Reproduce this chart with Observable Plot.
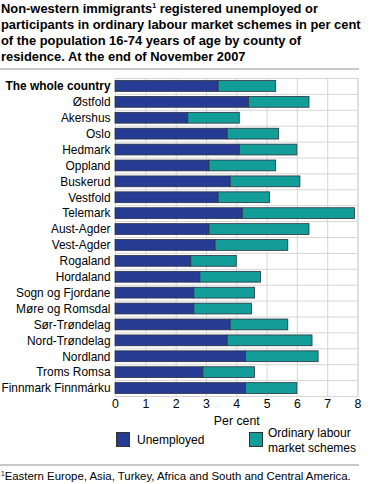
<!DOCTYPE html>
<html>
<head>
<meta charset="utf-8">
<script src="https://cdn.jsdelivr.net/npm/d3@7"></script>
<script src="https://cdn.jsdelivr.net/npm/@observablehq/plot@0.6"></script>
<style>
  body { margin: 0; background: #fff; font-family: "Liberation Sans", Arial, sans-serif; color: #000; }
  #wrap { position: relative; width: 371px; height: 484px; overflow: hidden; }
  #title { position: absolute; left: 1px; top: 1px; width: 370px; font-weight: bold; font-size: 12.9px; line-height: 16px; white-space: nowrap; }
  #title sup { font-size: 7px; vertical-align: 5px; line-height: 0; }
  #rule1 { position: absolute; left: 0; top: 68px; width: 359px; height: 2px; background: #c8c8c8; }
  #chart { position: absolute; left: 0; top: 72px; }
  .lg { position: absolute; font-size: 12px; line-height: 14.5px; white-space: nowrap; }
  .sw { position: absolute; width: 14px; height: 15px; box-sizing: border-box; border: 1px solid #333; }
  #rule2 { position: absolute; left: 0; top: 464px; width: 359px; height: 2px; background: #c8c8c8; }
  #foot { position: absolute; left: 1px; top: 470px; font-size: 11.4px; white-space: nowrap; }
  #foot sup { font-size: 6.5px; vertical-align: 4px; line-height: 0; }
</style>
</head>
<body>
<div id="wrap">
  <div id="title">Non-western immigrants<sup>1</sup> registered unemployed or<br>participants in ordinary labour market schemes in per cent<br>of the population 16-74 years of age by county of<br>residence. At the end of November 2007</div>
  <div id="rule1"></div>
  <div id="chart"></div>
  <div class="sw" style="left:116px; top:432px; background:#263c94;"></div>
  <div class="lg" style="left:137px; top:433px;">Unemployed</div>
  <div class="sw" style="left:249px; top:432px; background:#139d98;"></div>
  <div class="lg" style="left:268px; top:426px;">Ordinary labour<br>market schemes</div>
  <div id="rule2"></div>
  <div id="foot"><sup>1</sup>Eastern Europe, Asia, Turkey, Africa and South and Central America.</div>
</div>
<script>
const counties = ["The whole country","Østfold","Akershus","Oslo","Hedmark","Oppland","Buskerud","Vestfold","Telemark","Aust-Agder","Vest-Agder","Rogaland","Hordaland","Sogn og Fjordane","Møre og Romsdal","Sør-Trøndelag","Nord-Trøndelag","Nordland","Troms Romsa","Finnmark Finnmárku"];
const unemployed = [3.4,4.4,2.4,3.7,4.1,3.1,3.8,3.4,4.2,3.1,3.3,2.5,2.8,2.6,2.6,3.8,3.7,4.3,2.9,4.3];
const schemes    = [1.9,2.0,1.7,1.7,1.9,2.2,2.3,1.7,3.7,3.3,2.4,1.5,2.0,2.0,1.9,1.9,2.8,2.4,1.7,1.7];
const seriesNames = ["Unemployed","Ordinary labour market schemes"];
const xTicks = [0,1,2,3,4,5,6,7,8];

const rows = [];
counties.forEach((c, i) => {
  rows.push({county: c, series: seriesNames[0], value: unemployed[i]});
  rows.push({county: c, series: seriesNames[1], value: schemes[i]});
});

const width = 371, height = 356, mTop = 6, mBottom = 32, mLeft = 115, mRight = 13.5;
const step = (height - mTop - mBottom) / counties.length;
const grid = "#d6d6d6";

const chart = Plot.plot({
  width, height,
  marginTop: mTop, marginBottom: mBottom, marginLeft: mLeft, marginRight: mRight,
  style: {fontFamily: "Liberation Sans, Arial, sans-serif", fontSize: "12px", color: "#000", background: "#fff"},
  x: {domain: [0, 8], ticks: xTicks},
  y: {domain: counties, paddingInner: 0.32, paddingOuter: 0.16, round: false},
  color: {domain: seriesNames, range: ["#263c94", "#139d98"]},
  marks: [
    Plot.ruleX(xTicks, {stroke: grid, strokeWidth: 1}),
    Plot.ruleY(counties.slice(1), {y: d => d, dy: -step / 2, stroke: grid, strokeWidth: 1}),
    Plot.frame({stroke: grid, strokeWidth: 1}),
    Plot.barX(rows, Plot.stackX({y: "county", x: "value", fill: "series", stroke: "#2b3340", strokeWidth: 0.8, order: seriesNames})),
    Plot.axisX({ticks: xTicks, tickSize: 0, tickPadding: 3, fontSize: 12.3, label: "Per cent", labelAnchor: "center", labelArrow: "none", labelOffset: 28}),
    Plot.axisY([counties[0]], {tickSize: 0, tickPadding: 5, fontWeight: "bold", fontSize: 11.9, label: null}),
    Plot.axisY(counties.slice(1), {tickSize: 0, tickPadding: 5, fontSize: 11.9, label: null})
  ]
});
document.getElementById("chart").appendChild(chart);
</script>
</body>
</html>
